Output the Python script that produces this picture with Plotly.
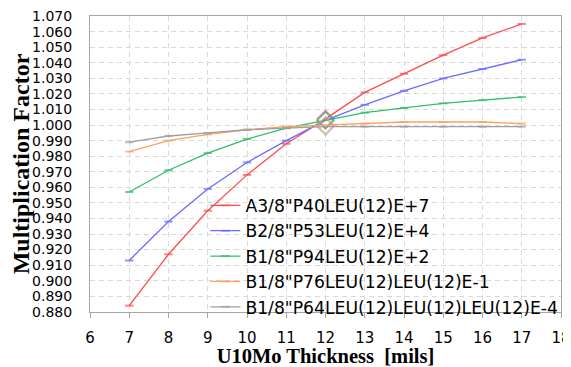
import plotly.graph_objects as go

thickness = [7, 8, 9, 10, 11, 12, 13, 14, 15, 16, 17]

names = [
    'A3/8"P40LEU(12)E+7',
    'B2/8"P53LEU(12)E+4',
    'B1/8"P94LEU(12)E+2',
    'B1/8"P76LEU(12)LEU(12)E-1',
    'B1/8"P64LEU(12)LEU(12)LEU(12)E-4',
]

a3_p40 = [0.884, 0.917, 0.945, 0.968, 0.988, 1.004, 1.021, 1.033, 1.045, 1.056, 1.065]
b2_p53 = [0.913, 0.938, 0.959, 0.976, 0.990, 1.003, 1.013, 1.022, 1.030, 1.036, 1.042]
b1_p94 = [0.957, 0.971, 0.982, 0.991, 0.998, 1.003, 1.008, 1.011, 1.014, 1.016, 1.018]
b1_p76 = [0.983, 0.990, 0.994, 0.997, 0.999, 1.000, 1.001, 1.002, 1.002, 1.002, 1.001]
b1_p64 = [0.989, 0.993, 0.995, 0.997, 0.998, 0.999, 0.999, 0.999, 0.999, 0.999, 0.999]

y_ticks = [0.880, 0.890, 0.900, 0.910, 0.920, 0.930, 0.940, 0.950, 0.960, 0.970,
           0.980, 0.990, 1.000, 1.010, 1.020, 1.030, 1.040, 1.050, 1.060, 1.070]
x_ticks = [6, 7, 8, 9, 10, 11, 12, 13, 14, 15, 16, 17, 18]

series = [a3_p40, b2_p53, b1_p94, b1_p76, b1_p64]
colors = ['#ff4d4d', '#6b6bff', '#2fbf68', '#ffa060', '#a0a0a0']

ref_x = 12
symbols = ['diamond-open' if x == ref_x else 'line-ew' for x in thickness]
sizes = [13 if x == ref_x else 6 for x in thickness]
widths = [1.2 if x == ref_x else 2 for x in thickness]

fig = go.Figure()
for name, ys, c in zip(names, series, colors):
    fig.add_trace(go.Scatter(
        x=thickness, y=ys, name=name, mode='lines+markers',
        line=dict(color=c, width=1.3),
        marker=dict(symbol=symbols, size=sizes, color=c,
                    line=dict(color=c, width=widths)),
    ))

# page has an 8px body margin; compensate so the figure fills the window
grid = dict(showgrid=True, gridcolor='#d9d9d9', griddash='5px,4px', gridwidth=1)
fig.update_layout(
    width=563, height=359,
    margin=dict(l=82, r=10, t=8, b=55, autoexpand=False),
    paper_bgcolor='white', plot_bgcolor='white',
    font=dict(family='DejaVu Sans', color='black'),
    showlegend=True,
    legend=dict(x=0.245, y=0.42, xanchor='left', yanchor='top',
                bgcolor='rgba(0,0,0,0)', font=dict(size=17.2, family='DejaVu Sans'),
                itemwidth=30, tracegroupgap=0),
    xaxis=dict(range=[6, 18], tickvals=x_ticks, showline=True, linecolor='#a6a6a6',
               mirror=True, ticks='outside', ticklen=5, tickcolor='#a6a6a6',
               ticklabelstandoff=7, automargin=False,
               tickfont=dict(size=15), zeroline=False,
               title=dict(text='U10Mo Thickness  [mils]', standoff=2,
                          font=dict(family='Liberation Serif', size=20.5, weight='bold')),
               **grid),
    yaxis=dict(range=[0.8799, 1.0701], tickvals=y_ticks, tickformat='.3f',
               showline=True, linecolor='#a6a6a6', mirror=True, ticks='',
               ticklabelstandoff=14, tickfont=dict(size=14), zeroline=False,
               automargin=False,
               title=dict(text='Multiplication Factor', standoff=13,
                          font=dict(family='Liberation Serif', size=24, weight='bold')),
               **grid),
)

fig.write_html('out.html')
